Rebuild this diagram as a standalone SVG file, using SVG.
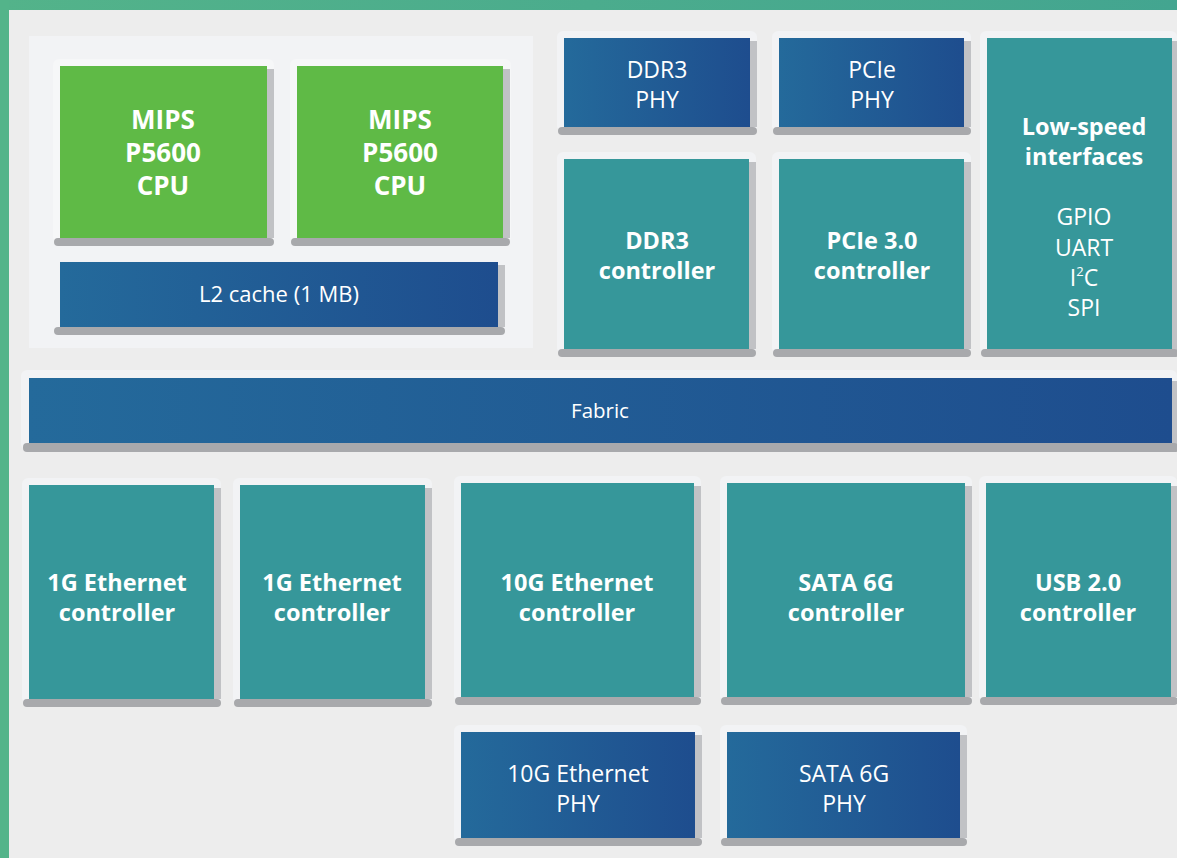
<svg xmlns="http://www.w3.org/2000/svg" width="1177" height="858" viewBox="0 0 1177 858">
<defs>
<linearGradient id="blu" x1="0" y1="0" x2="1" y2="0">
<stop offset="0" stop-color="#246a9b"/>
<stop offset="1" stop-color="#1e4d8e"/>
</linearGradient>
<linearGradient id="brd" x1="0" y1="0" x2="1" y2="0">
<stop offset="0" stop-color="#53b38a"/>
<stop offset="1" stop-color="#43a590"/>
</linearGradient>
<style>
.halo{fill:#f2f3f5}
.shr{fill:#c1c2c5}
.shb{fill:#a8a9ac}
.teal{fill:#36979a}
.green{fill:#5fba46}
.blue{fill:url(#blu)}
text{font-family:"Open Sans","Noto Sans","Liberation Sans",sans-serif;fill:#ffffff;text-anchor:middle}
.b{font-weight:bold;font-size:23.5px}
.n{font-weight:normal;font-size:23px}
.s{font-weight:normal;font-size:20.5px}
.l2{font-weight:normal;font-size:22px}
.cpu{font-weight:bold;font-size:26px}
</style>
</defs>
<rect x="0" y="0" width="1177" height="858" fill="#ededed"/>
<rect x="0" y="0" width="1177" height="10" fill="url(#brd)"/>
<rect x="0" y="0" width="9" height="858" fill="#53b48a"/>
<rect x="29" y="36" width="504" height="312" fill="#f2f3f5"/>

<g id="cpu1">
<rect class="halo" x="53" y="59" width="221" height="184" rx="6" style="fill:#f6f7f8"/>
<rect class="shr" x="267" y="69" width="7" height="169"/>
<rect class="shb" x="54" y="238" width="220" height="8" rx="4"/>
<rect class="green" x="60" y="66" width="207" height="172"/>
<text class="cpu" x="163" y="129">MIPS</text>
<text class="cpu" x="163" y="162">P5600</text>
<text class="cpu" x="163" y="195">CPU</text>
</g>
<g id="cpu2">
<rect class="halo" x="290" y="59" width="221" height="184" rx="6" style="fill:#f6f7f8"/>
<rect class="shr" x="503" y="69" width="7" height="169"/>
<rect class="shb" x="291" y="238" width="219" height="8" rx="4"/>
<rect class="green" x="297" y="66" width="206" height="172"/>
<text class="cpu" x="400" y="129">MIPS</text>
<text class="cpu" x="400" y="162">P5600</text>
<text class="cpu" x="400" y="195">CPU</text>
</g>
<g id="l2">
<rect class="shr" x="498" y="265" width="7" height="62"/>
<rect class="shb" x="54" y="327" width="451" height="8" rx="4"/>
<rect class="blue" x="60" y="262" width="438" height="65"/>
<text class="l2" x="279" y="302">L2 cache (1 MB)</text>
</g>

<g id="ddr3phy">
<rect class="halo" x="557" y="31" width="200" height="101" rx="6"/>
<rect class="shr" x="750" y="41" width="7" height="86"/>
<rect class="shb" x="558" y="127" width="199" height="8" rx="4"/>
<rect class="blue" x="564" y="38" width="186" height="89"/>
<text class="n" x="657" y="78">DDR3</text>
<text class="n" x="657" y="108">PHY</text>
</g>
<g id="pciephy">
<rect class="halo" x="772" y="31" width="199" height="101" rx="6"/>
<rect class="shr" x="964" y="41" width="7" height="86"/>
<rect class="shb" x="773" y="127" width="198" height="8" rx="4"/>
<rect class="blue" x="779" y="38" width="185" height="89"/>
<text class="n" x="872" y="78">PCIe</text>
<text class="n" x="872" y="108">PHY</text>
</g>
<g id="lowspeed">
<rect class="halo" x="980" y="31" width="197" height="323" rx="6"/>
<rect class="shr" x="1172" y="41" width="7" height="308"/>
<rect class="shb" x="981" y="349" width="198" height="8" rx="4"/>
<rect class="teal" x="987" y="38" width="185" height="311"/>
<text class="b" x="1084" y="135">Low-speed</text>
<text class="b" x="1084" y="165">interfaces</text>
<text class="n" x="1084" y="225">GPIO</text>
<text class="n" x="1084" y="256">UART</text>
<text class="n" x="1084" y="286">I<tspan style="font-size:13px" dy="-10">2</tspan><tspan dy="10">C</tspan></text>
<text class="n" x="1084" y="316">SPI</text>
</g>
<g id="ddr3ctrl">
<rect class="halo" x="557" y="152" width="199" height="202" rx="6"/>
<rect class="shr" x="749" y="162" width="7" height="187"/>
<rect class="shb" x="558" y="349" width="198" height="8" rx="4"/>
<rect class="teal" x="564" y="159" width="185" height="190"/>
<text class="b" x="657" y="249">DDR3</text>
<text class="b" x="657" y="279">controller</text>
</g>
<g id="pciectrl">
<rect class="halo" x="772" y="152" width="199" height="202" rx="6"/>
<rect class="shr" x="964" y="162" width="7" height="187"/>
<rect class="shb" x="773" y="349" width="198" height="8" rx="4"/>
<rect class="teal" x="779" y="159" width="185" height="190"/>
<text class="b" x="872" y="249">PCIe 3.0</text>
<text class="b" x="872" y="279">controller</text>
</g>

<g id="fabric">
<rect class="halo" x="21" y="370" width="1156" height="80" rx="6"/>
<rect class="shr" x="1172" y="381" width="7" height="62"/>
<rect class="shb" x="23" y="443" width="1156" height="9" rx="4"/>
<rect class="blue" x="29" y="378" width="1143" height="65"/>
<text class="s" x="600" y="418">Fabric</text>
</g>

<g id="eth1g1">
<rect class="halo" x="22" y="478" width="199" height="226" rx="6"/>
<rect class="shr" x="214" y="488" width="7" height="211"/>
<rect class="shb" x="23" y="699" width="198" height="8" rx="4"/>
<rect class="teal" x="29" y="485" width="185" height="214"/>
<text class="b" x="117" y="591">1G Ethernet</text>
<text class="b" x="117" y="621">controller</text>
</g>
<g id="eth1g2">
<rect class="halo" x="233" y="478" width="199" height="226" rx="6"/>
<rect class="shr" x="425" y="488" width="7" height="211"/>
<rect class="shb" x="234" y="699" width="198" height="8" rx="4"/>
<rect class="teal" x="240" y="485" width="185" height="214"/>
<text class="b" x="332" y="591">1G Ethernet</text>
<text class="b" x="332" y="621">controller</text>
</g>
<g id="eth10g">
<rect class="halo" x="454" y="476" width="247" height="226" rx="6"/>
<rect class="shr" x="694" y="486" width="7" height="211"/>
<rect class="shb" x="455" y="697" width="246" height="8" rx="4"/>
<rect class="teal" x="461" y="483" width="233" height="214"/>
<text class="b" x="577" y="591">10G Ethernet</text>
<text class="b" x="577" y="621">controller</text>
</g>
<g id="sata">
<rect class="halo" x="720" y="476" width="252" height="226" rx="6"/>
<rect class="shr" x="965" y="486" width="7" height="211"/>
<rect class="shb" x="721" y="697" width="251" height="8" rx="4"/>
<rect class="teal" x="727" y="483" width="238" height="214"/>
<text class="b" x="846" y="591">SATA 6G</text>
<text class="b" x="846" y="621">controller</text>
</g>
<g id="usb">
<rect class="halo" x="979" y="476" width="198" height="226" rx="6"/>
<rect class="shr" x="1171" y="486" width="7" height="211"/>
<rect class="shb" x="980" y="697" width="198" height="8" rx="4"/>
<rect class="teal" x="986" y="483" width="185" height="214"/>
<text class="b" x="1078" y="591">USB 2.0</text>
<text class="b" x="1078" y="621">controller</text>
</g>

<g id="eth10gphy">
<rect class="halo" x="454" y="725" width="248" height="118" rx="6"/>
<rect class="shr" x="695" y="735" width="7" height="103"/>
<rect class="shb" x="455" y="838" width="247" height="8" rx="4"/>
<rect class="blue" x="461" y="732" width="234" height="106"/>
<text class="n" x="578" y="782">10G Ethernet</text>
<text class="n" x="578" y="812">PHY</text>
</g>
<g id="sataphy">
<rect class="halo" x="720" y="725" width="247" height="118" rx="6"/>
<rect class="shr" x="960" y="735" width="7" height="103"/>
<rect class="shb" x="721" y="838" width="246" height="8" rx="4"/>
<rect class="blue" x="727" y="732" width="233" height="106"/>
<text class="n" x="844" y="782">SATA 6G</text>
<text class="n" x="844" y="812">PHY</text>
</g>
<g id="connectors"></g>
</svg>
